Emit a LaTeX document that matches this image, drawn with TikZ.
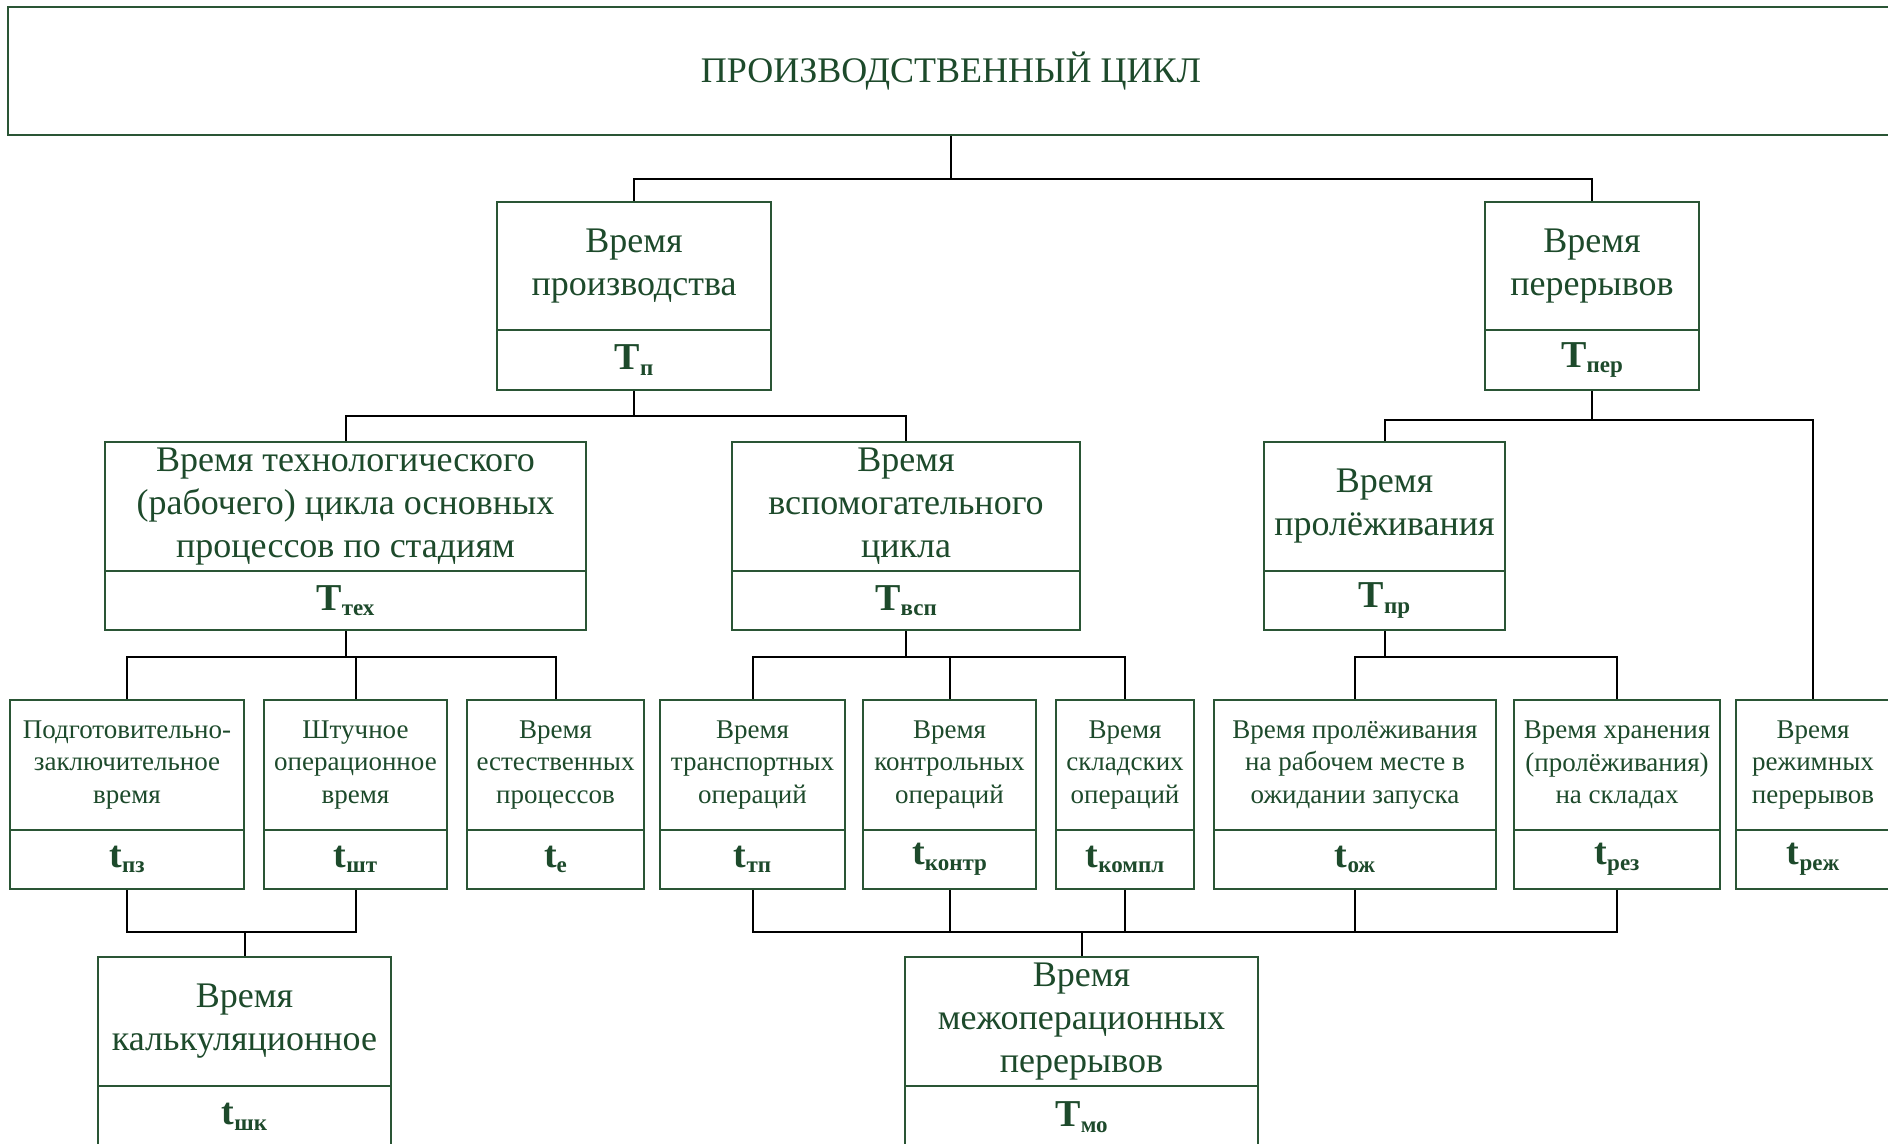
\documentclass[tikz,border=0pt]{standalone}
\usepackage{fontspec}
\setmainfont{Liberation Serif}
\usetikzlibrary{calc}
\definecolor{boxgreen}{HTML}{2A5535}
\definecolor{textgreen}{HTML}{1D4A2B}
% bold symbol with a lowered bold subscript
\newcommand\sym[2]{{\fontsize{19}{19}\selectfont\bfseries #1\raisebox{-0.32ex}{\fontsize{11.5}{11.5}\selectfont\bfseries #2}}}
\begin{document}
\begin{tikzpicture}[x=0.5pt,y=-0.5pt,
  box/.style={draw=boxgreen, line width=1.1pt, fill=white, inner sep=0pt,
    align=center, text=textgreen, font=\fontsize{18}{21.5}\selectfont},
  small/.style={font=\fontsize{13.5}{16.25}\selectfont},
  link/.style={draw=black, line width=1pt}]
\clip (0,0) rectangle (1888,1144);
\fill[white] (0,0) rectangle (1888,1144);

% title
\node[box, minimum width=943pt, minimum height=64pt] (title) at (951,71) {ПРОИЗВОДСТВЕННЫЙ ЦИКЛ};

% second level
\node[box, minimum width=137pt, minimum height=64pt] (prod) at (634,266) {Время\\производства};
\node[box, minimum width=137pt, minimum height=30pt] (prodT) at (634,360) {\sym{T}{п}};
\node[box, minimum width=107pt, minimum height=64pt] (per) at (1592,266) {Время\\перерывов};
\node[box, minimum width=107pt, minimum height=30pt] (perT) at (1592,360) {\sym{T}{пер}};

% third level
\node[box, minimum width=240.5pt, minimum height=64.5pt] (tech) at (345.5,506.5) {Время технологического\\(рабочего) цикла основных\\процессов по стадиям};
\node[box, minimum width=240.5pt, minimum height=29.5pt] (techT) at (345.5,600.5) {\sym{T}{тех}};
\node[box, minimum width=174pt, minimum height=64.5pt] (vsp) at (906,506.5) {Время\\вспомогательного\\цикла};
\node[box, minimum width=174pt, minimum height=29.5pt] (vspT) at (906,600.5) {\sym{T}{всп}};
\node[box, minimum width=120.5pt, minimum height=64.5pt] (prol) at (1384.5,506.5) {Время\\пролёживания};
\node[box, minimum width=120.5pt, minimum height=29.5pt] (prolT) at (1384.5,600.5) {\sym{T}{пр}};

% fourth level
\node[box, small, minimum width=117pt, minimum height=65pt] (pz) at (127,765) {Подготовительно-\\заключительное\\время};
\node[box, minimum width=117pt, minimum height=29.5pt] (pzT) at (127,859.5) {\sym{t}{пз}};
\node[box, small, minimum width=91.5pt, minimum height=65pt] (sht) at (355.5,765) {Штучное\\операционное\\время};
\node[box, minimum width=91.5pt, minimum height=29.5pt] (shtT) at (355.5,859.5) {\sym{t}{шт}};
\node[box, small, minimum width=88.5pt, minimum height=65pt] (e) at (555.5,765) {Время\\естественных\\процессов};
\node[box, minimum width=88.5pt, minimum height=29.5pt] (eT) at (555.5,859.5) {\sym{t}{е}};
\node[box, small, minimum width=92.5pt, minimum height=65pt] (tp) at (752.5,765) {Время\\транспортных\\операций};
\node[box, minimum width=92.5pt, minimum height=29.5pt] (tpT) at (752.5,859.5) {\sym{t}{тп}};
\node[box, small, minimum width=86.5pt, minimum height=65pt] (kontr) at (949.5,765) {Время\\контрольных\\операций};
\node[box, minimum width=86.5pt, minimum height=29.5pt] (kontrT) at (949.5,859.5) {\sym{t}{контр}};
\node[box, small, minimum width=69pt, minimum height=65pt] (kompl) at (1125,765) {Время\\складских\\операций};
\node[box, minimum width=69pt, minimum height=29.5pt] (komplT) at (1125,859.5) {\sym{t}{компл}};
\node[box, small, minimum width=141pt, minimum height=65pt] (ozh) at (1355,765) {Время пролёживания\\на рабочем месте в\\ожидании запуска};
\node[box, minimum width=141pt, minimum height=29.5pt] (ozhT) at (1355,859.5) {\sym{t}{ож}};
\node[box, small, minimum width=103pt, minimum height=65pt] (rez) at (1617,765) {Время хранения\\(пролёживания)\\на складах};
\node[box, minimum width=103pt, minimum height=29.5pt] (rezT) at (1617,859.5) {\sym{t}{рез}};
\node[box, small, minimum width=77pt, minimum height=65pt] (rezh) at (1813,765) {Время\\режимных\\перерывов};
\node[box, minimum width=77pt, minimum height=29.5pt] (rezhT) at (1813,859.5) {\sym{t}{реж}};

% fifth level
\node[box, minimum width=146.5pt, minimum height=64.5pt] (kalk) at (244.5,1021.5) {Время\\калькуляционное};
\node[box, minimum width=146.5pt, minimum height=31pt] (kalkT) at (244.5,1117) {\sym{t}{шк}};
\node[box, minimum width=176.5pt, minimum height=64.5pt] (mo) at (1081.5,1021.5) {Время\\межоперационных\\перерывов};
\node[box, minimum width=176.5pt, minimum height=31pt] (moT) at (1081.5,1117) {\sym{T}{мо}};

% connectors
\draw[link] (title.south) -- ++(0,43) coordinate (j0);
\draw[link] (prod.north) |- (j0) -| (per.north);

\draw[link] (prodT.south) -- ++(0,25) coordinate (j1);
\draw[link] (tech.north) |- (j1) -| (vsp.north);
\draw[link] (perT.south) -- ++(0,29) coordinate (j2);
\draw[link] (prol.north) |- (j2) -| (rezh.north);

\draw[link] (techT.south) -- ++(0,26) coordinate (j3);
\draw[link] (pz.north) |- (j3) -| (e.north);
\draw[link] (sht.north) -- (sht.north |- j3);
\draw[link] (vspT.south) -- ++(0,26) coordinate (j4);
\draw[link] (tp.north) |- (j4) -| (kompl.north);
\draw[link] (kontr.north) -- (kontr.north |- j4);
\draw[link] (prolT.south) -- ++(0,26) coordinate (j5);
\draw[link] (ozh.north) |- (j5) -| (rez.north);

\coordinate (j6) at ($(kalk.north)+(0,-24)$);
\draw[link] (pzT.south) |- (j6) -| (shtT.south);
\draw[link] (kalk.north) -- (j6);
\coordinate (j7) at ($(mo.north)+(0,-24)$);
\draw[link] (tpT.south) |- (j7) -| (rezT.south);
\draw[link] (kontrT.south) -- (kontrT.south |- j7);
\draw[link] (komplT.south) -- (komplT.south |- j7);
\draw[link] (ozhT.south) -- (ozhT.south |- j7);
\draw[link] (mo.north) -- (j7);
\end{tikzpicture}
\end{document}
